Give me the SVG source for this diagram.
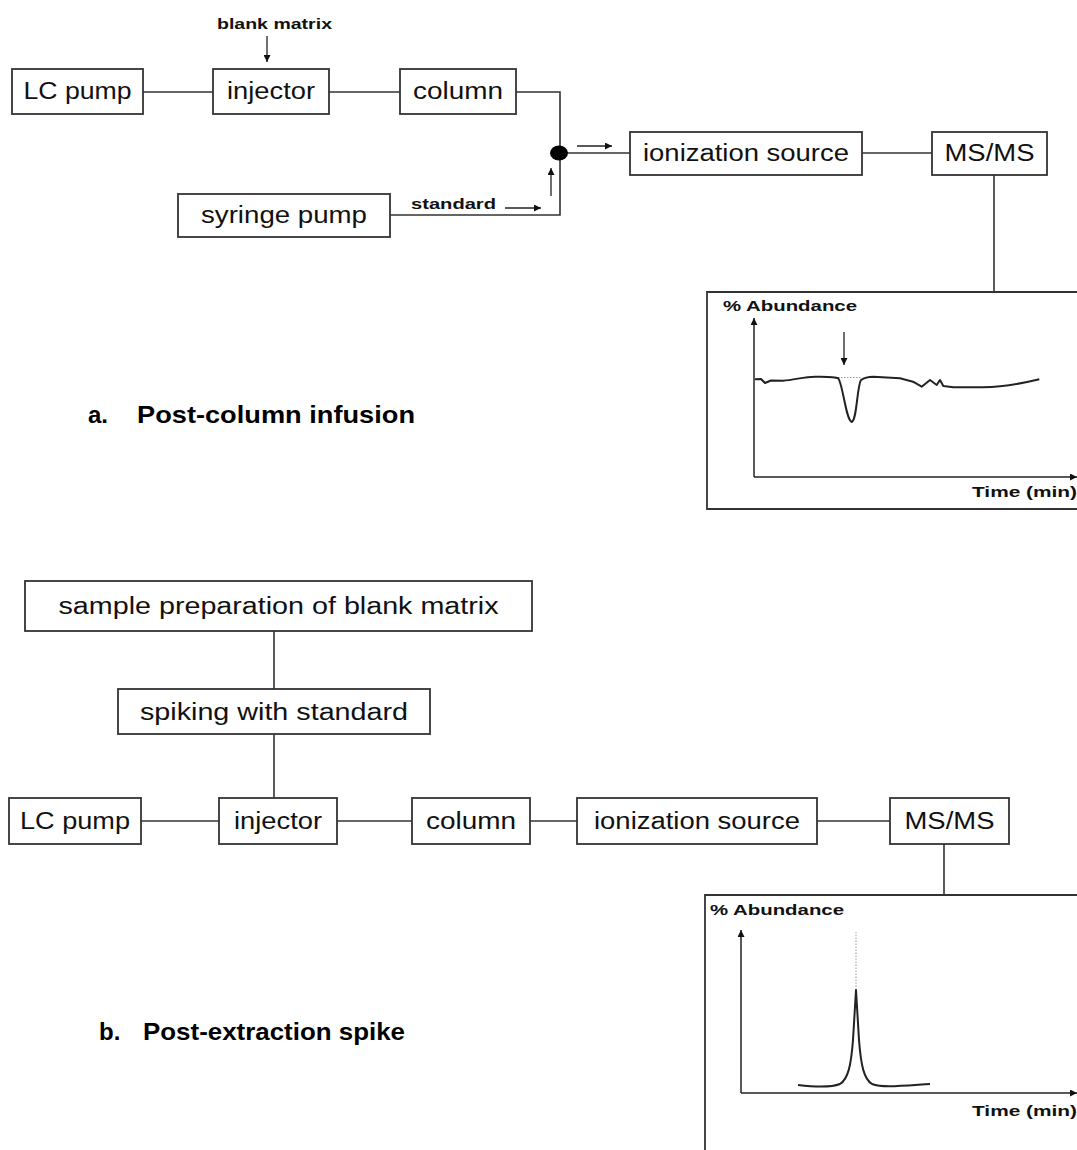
<svg xmlns="http://www.w3.org/2000/svg" width="1077" height="1150" viewBox="0 0 1077 1150">
<defs>
<marker id="ah" viewBox="0 0 10 10" refX="10" refY="5" markerWidth="9" markerHeight="7" markerUnits="userSpaceOnUse" orient="auto"><path d="M0,0 L10,5 L0,10 z" fill="#111"/></marker>
<style>
.box{fill:#fff;stroke:#333;stroke-width:1.8}
.lbl{font-family:'Liberation Sans',Arial,sans-serif;font-size:23px;fill:#111;text-anchor:middle}
.sm{font-family:'Liberation Sans',Arial,sans-serif;font-weight:bold;font-size:15px;fill:#111}
.cap{font-family:'Liberation Sans',Arial,sans-serif;font-weight:bold;font-size:24px;fill:#000}
.ln{stroke:#333;stroke-width:1.6;fill:none}
.ar{stroke:#222;stroke-width:1.3;fill:none;marker-end:url(#ah)}
.ax{stroke:#222;stroke-width:1.5;fill:none;marker-end:url(#ah)}
.tr{stroke:#222;stroke-width:2;fill:none;stroke-linejoin:round}
.dt{stroke:#999;stroke-width:1;fill:none;stroke-dasharray:1.5 1.5}
</style>
</defs>
<rect width="1077" height="1150" fill="#fff"/>

<g id="connectors">
<line class="ln" x1="143" y1="92" x2="213" y2="92"/>
<line class="ln" x1="329" y1="92" x2="400" y2="92"/>
<polyline class="ln" points="516,92 560,92 560,215 390,215"/>
<line class="ln" x1="559" y1="153" x2="630" y2="153"/>
<line class="ln" x1="862" y1="153" x2="932" y2="153"/>
<line class="ln" x1="994" y1="174" x2="994" y2="292"/>
<line class="ar" x1="267" y1="36" x2="267" y2="62"/>
<line class="ar" x1="577" y1="146" x2="612" y2="146"/>
<line class="ar" x1="551" y1="196" x2="551" y2="168"/>
<line class="ar" x1="505" y1="208" x2="541" y2="208"/>
<line class="ln" x1="274" y1="631" x2="274" y2="689"/>
<line class="ln" x1="274" y1="734" x2="274" y2="798"/>
<line class="ln" x1="141" y1="821" x2="219" y2="821"/>
<line class="ln" x1="337" y1="821" x2="412" y2="821"/>
<line class="ln" x1="530" y1="821" x2="577" y2="821"/>
<line class="ln" x1="817" y1="821" x2="890" y2="821"/>
<line class="ln" x1="944" y1="844" x2="944" y2="895"/>
</g>

<g id="junction"><ellipse cx="559" cy="153" rx="9" ry="7.5" fill="#000"/></g>

<g id="blank-matrix-label"><text class="sm" x="217" y="29" font-size="16" textLength="115" lengthAdjust="spacingAndGlyphs">blank matrix</text></g>
<g id="standard-label"><text class="sm" x="411" y="209" font-size="16" textLength="85" lengthAdjust="spacingAndGlyphs">standard</text></g>

<g id="lc-pump-a"><rect class="box" x="12" y="69" width="131" height="45"/><text class="lbl" x="77.5" y="99" textLength="108" lengthAdjust="spacingAndGlyphs">LC pump</text></g>
<g id="injector-a"><rect class="box" x="213" y="69" width="116" height="45"/><text class="lbl" x="271" y="99" textLength="88" lengthAdjust="spacingAndGlyphs">injector</text></g>
<g id="column-a"><rect class="box" x="400" y="69" width="116" height="45"/><text class="lbl" x="458" y="99" textLength="90" lengthAdjust="spacingAndGlyphs">column</text></g>
<g id="ionization-a"><rect class="box" x="630" y="132" width="232" height="43"/><text class="lbl" x="746" y="161" textLength="206" lengthAdjust="spacingAndGlyphs">ionization source</text></g>
<g id="msms-a"><rect class="box" x="932" y="132" width="115" height="43"/><text class="lbl" x="989.5" y="161" textLength="90" lengthAdjust="spacingAndGlyphs">MS/MS</text></g>
<g id="syringe-a"><rect class="box" x="178" y="194" width="212" height="43"/><text class="lbl" x="284" y="223" textLength="166" lengthAdjust="spacingAndGlyphs">syringe pump</text></g>

<g id="chart-a">
<path class="box" d="M1085,292 H707 V509 H1085"/>
<text class="sm" x="723" y="311" font-size="16" textLength="134" lengthAdjust="spacingAndGlyphs">% Abundance</text>
<line class="ax" x1="754" y1="477" x2="754" y2="318"/>
<line class="ax" x1="754" y1="477" x2="1077" y2="477"/>
<text class="sm" x="972" y="497" font-size="17" textLength="105" lengthAdjust="spacingAndGlyphs">Time (min)</text>
<line class="ar" x1="844" y1="332" x2="844" y2="365"/>
<line class="dt" x1="838" y1="377.5" x2="861" y2="377.5"/>
<path class="tr" d="M755,379.3 L761,379 765,383 771,380.5 783,380.7 C795,380 806,376 817,376.7 C828,377 835,377 838.3,378.3 C843,385 846,420 851.7,422 C857,420 857,386 861,380 C865,377 868,376.7 873.3,376.7 L900,378.3 913,381.7 921.7,386.7 930,380 936.7,385 940,380 943.3,386 953.3,387.3 L983.3,387.3 C1000,387 1016,385 1039.3,379.3"/>
</g>

<g id="label-a"><text class="cap" x="88" y="423">a.</text><text class="cap" x="137" y="423" textLength="278" lengthAdjust="spacingAndGlyphs">Post-column infusion</text></g>

<g id="sample-prep-b"><rect class="box" x="25" y="581" width="507" height="50"/><text class="lbl" x="278.5" y="614" textLength="440" lengthAdjust="spacingAndGlyphs">sample preparation of blank matrix</text></g>
<g id="spiking-b"><rect class="box" x="118" y="689" width="312" height="45"/><text class="lbl" x="274" y="720" textLength="268" lengthAdjust="spacingAndGlyphs">spiking with standard</text></g>
<g id="lc-pump-b"><rect class="box" x="9" y="798" width="132" height="46"/><text class="lbl" x="75" y="829" textLength="110" lengthAdjust="spacingAndGlyphs">LC pump</text></g>
<g id="injector-b"><rect class="box" x="219" y="798" width="118" height="46"/><text class="lbl" x="278" y="829" textLength="88" lengthAdjust="spacingAndGlyphs">injector</text></g>
<g id="column-b"><rect class="box" x="412" y="798" width="118" height="46"/><text class="lbl" x="471" y="829" textLength="90" lengthAdjust="spacingAndGlyphs">column</text></g>
<g id="ionization-b"><rect class="box" x="577" y="798" width="240" height="46"/><text class="lbl" x="697" y="829" textLength="206" lengthAdjust="spacingAndGlyphs">ionization source</text></g>
<g id="msms-b"><rect class="box" x="890" y="798" width="119" height="46"/><text class="lbl" x="949.5" y="829" textLength="90" lengthAdjust="spacingAndGlyphs">MS/MS</text></g>

<g id="chart-b">
<path class="box" d="M1085,895 H705 V1155"/>
<text class="sm" x="710" y="915" font-size="16" textLength="134" lengthAdjust="spacingAndGlyphs">% Abundance</text>
<line class="ax" x1="741" y1="1093" x2="741" y2="930"/>
<line class="ax" x1="741" y1="1093" x2="1077" y2="1093"/>
<text class="sm" x="972" y="1116" font-size="17" textLength="105" lengthAdjust="spacingAndGlyphs">Time (min)</text>
<line class="dt" x1="856" y1="990" x2="856" y2="932" stroke-width="2"/>
<path class="tr" d="M798,1085 C815,1087 830,1088 840,1084 C848,1079 851,1066 853,1040 L856,990 859,1040 C861,1066 864,1079 872,1084 C882,1088 900,1086 930,1084" stroke-width="2.5"/>
</g>

<g id="label-b"><text class="cap" x="99" y="1040">b.</text><text class="cap" x="143" y="1040" textLength="262" lengthAdjust="spacingAndGlyphs">Post-extraction spike</text></g>
</svg>
